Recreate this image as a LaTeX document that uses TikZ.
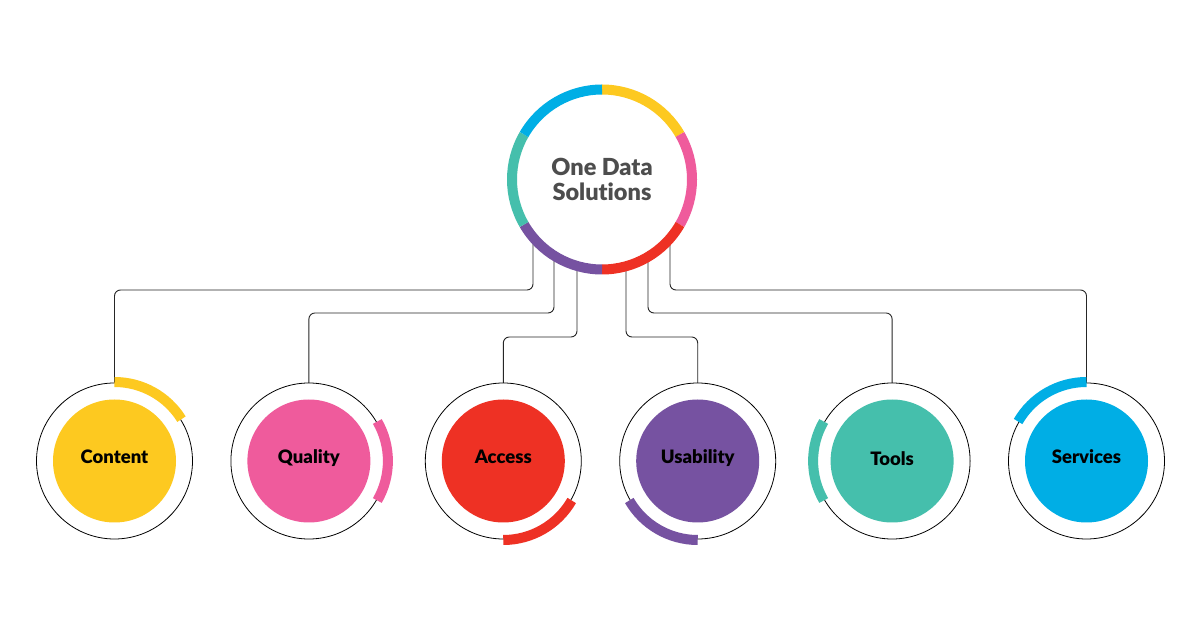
\documentclass[tikz,border=0pt]{standalone}
\usepackage{fontspec}
\setmainfont[Ligatures=NoCommon, BoldFont={Lato Black}]{Lato}
\usepackage{tikz}
\usetikzlibrary{backgrounds}
\definecolor{sunflower}{RGB}{253, 201, 32}
\definecolor{rosepink}{RGB}{239, 91, 156}
\definecolor{cinnabar}{RGB}{238, 49, 36}
\definecolor{amethyst}{RGB}{118, 82, 161}
\definecolor{turquoise}{RGB}{69, 191, 172}
\definecolor{skyblue}{RGB}{0, 174, 229}
\definecolor{slate}{RGB}{77, 77, 77}

\begin{document}
\begin{tikzpicture}[x=1pt, y=1pt,
        hubnode/.style={circle, fill=white, minimum size=170pt, inner sep=0pt, align=center,
                        text=slate, font=\fontsize{23.5}{24.5}\selectfont\bfseries},
        topic/.style={circle, minimum size=123pt, inner sep=0pt, outer sep=16.5pt,
                      text height=10pt, text depth=4pt, font=\fontsize{18.5}{20}\selectfont\bfseries},
        link/.style={draw=black!85, line width=0.9pt, rounded corners=6pt},
        halo/.style={draw=black, line width=0.8pt},
        band/.style={line width=10pt}]
            % Frame to ensure alignment:
            \useasboundingbox                                          (   0.0,   0.0) rectangle (1200, 627);

            % Hub with its coloured ring:
            \node[hubnode]                    (hub)        at ( 602.0, 447.5) {One Data\\Solutions};
            \draw[band, sunflower]  ([shift={( 90:90pt)}]hub.center) arc[start angle= 90, end angle= 30, radius=90pt];
            \draw[band, rosepink]   ([shift={( 30:90pt)}]hub.center) arc[start angle= 30, end angle=-30, radius=90pt];
            \draw[band, cinnabar]   ([shift={(-30:90pt)}]hub.center) arc[start angle=-30, end angle=-90, radius=90pt];
            \draw[band, amethyst]   ([shift={(270:90pt)}]hub.center) arc[start angle=270, end angle=210, radius=90pt];
            \draw[band, turquoise]  ([shift={(210:90pt)}]hub.center) arc[start angle=210, end angle=150, radius=90pt];
            \draw[band, skyblue]    ([shift={(150:90pt)}]hub.center) arc[start angle=150, end angle= 90, radius=90pt];

            % Topics:
            \node[topic, fill=sunflower]      (content)    at ( 114.5, 166.0) {Content};
            \node[topic, fill=rosepink]       (quality)    at ( 308.9, 166.0) {Quality};
            \node[topic, fill=cinnabar]       (access)     at ( 503.3, 166.0) {Access};
            \node[topic, fill=amethyst]       (usability)  at ( 697.7, 166.0) {Usability};
            \node[topic, fill=turquoise, text depth=0pt] (tools) at ( 892.1, 166.0) {Tools};
            \node[topic, fill=skyblue]        (services)   at (1086.5, 166.0) {Services};

            \draw[halo]                       (content.center)   circle[radius=78pt];
            \draw[halo]                       (quality.center)   circle[radius=78pt];
            \draw[halo]                       (access.center)    circle[radius=78pt];
            \draw[halo]                       (usability.center) circle[radius=78pt];
            \draw[halo]                       (tools.center)     circle[radius=78pt];
            \draw[halo]                       (services.center)  circle[radius=78pt];

            \draw[band, sunflower]  ([shift={( 90:79pt)}]content.center)   arc[start angle= 90, end angle= 32, radius=79pt];
            \draw[band, rosepink]   ([shift={( 30:79pt)}]quality.center)   arc[start angle= 30, end angle=-30, radius=79pt];
            \draw[band, cinnabar]   ([shift={(-30:79pt)}]access.center)    arc[start angle=-30, end angle=-90, radius=79pt];
            \draw[band, amethyst]   ([shift={(270:79pt)}]usability.center) arc[start angle=270, end angle=210, radius=79pt];
            \draw[band, turquoise]  ([shift={(210:79pt)}]tools.center)     arc[start angle=210, end angle=150, radius=79pt];
            \draw[band, skyblue]    ([shift={(150:79pt)}]services.center)  arc[start angle=150, end angle= 90, radius=79pt];

            % Links, kept under the hub:
            \begin{pgfonlayer}{background}
                \fill[white]                                           (   0.0,   0.0) rectangle (1200, 627);
                \draw[link] ([xshift=-69pt]hub.center) -- ++(0,-110.5) -| (content.north);
                \draw[link] ([xshift=-48pt]hub.center) -- ++(0,-133.5) -| (quality.north);
                \draw[link] ([xshift=-25pt]hub.center) -- ++(0,-157.5) -| (access.north);
                \draw[link] ([xshift= 24pt]hub.center) -- ++(0,-157.5) -| (usability.north);
                \draw[link] ([xshift= 46pt]hub.center) -- ++(0,-133.5) -| (tools.north);
                \draw[link] ([xshift= 68pt]hub.center) -- ++(0,-110.5) -| (services.north);
            \end{pgfonlayer}
        \end{tikzpicture}
\end{document}
